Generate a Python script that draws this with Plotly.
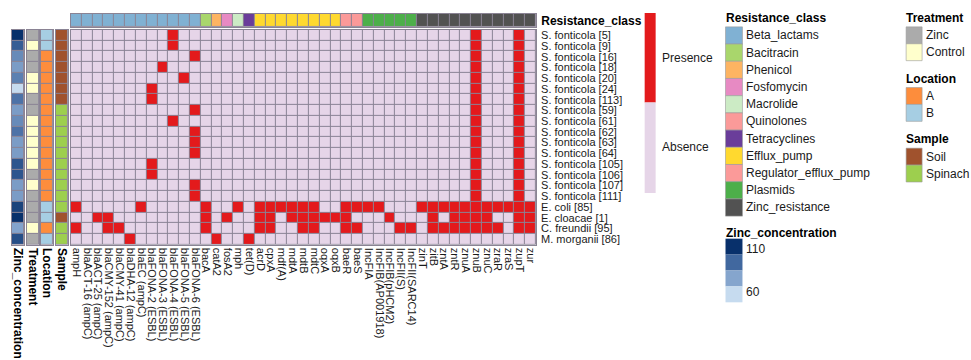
import plotly.graph_objects as go

# ---------------- data ----------------
genes = ["ampH", "blaACT-16 (ampC)", "blaACT-25 (ampC)", "blaCMY-152 (ampC)", "blaCMY-41 (ampC)",
         "blaDHA-12 (ampC)", "blaEC (ampC)", "blaFONA-2 (ESBL)", "blaFONA-3 (ESBL)", "blaFONA-4 (ESBL)",
         "blaFONA-5 (ESBL)", "blaFONA-6 (ESBL)", "bacA", "catA2", "fosA2", "mph", "tet(D)", "acrD", "cpxA",
         "mdf(A)", "mdtA", "mdtB", "mdtC", "oqxA", "oqxB", "baeR", "baeS", "IncFIA", "IncFIB(AP001918)",
         "IncFIB(pHCM2)", "IncFII(S)", "IncFII(SARC14)", "zinT", "zitB", "zntA", "zntR", "znuA", "znuB",
         "znuC", "zraR", "zraS", "zupT", "zur"]

gene_class = ["Beta_lactams", "Beta_lactams", "Beta_lactams", "Beta_lactams", "Beta_lactams",
              "Beta_lactams", "Beta_lactams", "Beta_lactams", "Beta_lactams", "Beta_lactams",
              "Beta_lactams", "Beta_lactams", "Bacitracin", "Phenicol", "Fosfomycin", "Macrolide",
              "Tetracyclines", "Efflux_pump", "Efflux_pump", "Efflux_pump", "Efflux_pump", "Efflux_pump",
              "Efflux_pump", "Efflux_pump", "Efflux_pump", "Regulator_efflux_pump", "Regulator_efflux_pump",
              "Plasmids", "Plasmids", "Plasmids", "Plasmids", "Plasmids", "Zinc_resistance",
              "Zinc_resistance", "Zinc_resistance", "Zinc_resistance", "Zinc_resistance", "Zinc_resistance",
              "Zinc_resistance", "Zinc_resistance", "Zinc_resistance", "Zinc_resistance", "Zinc_resistance"]

class_names = ["Beta_lactams", "Bacitracin", "Phenicol", "Fosfomycin", "Macrolide", "Quinolones",
               "Tetracyclines", "Efflux_pump", "Regulator_efflux_pump", "Plasmids", "Zinc_resistance"]
class_colors = ["#80B1D3", "#A9D66C", "#FDB462", "#E78AC3", "#CCEBC5", "#FB9A99",
                "#6A3D9A", "#FFD92F", "#FB9A99", "#4DAF4A", "#525252"]

isolates = ["S. fonticola [5]", "S. fonticola [9]", "S. fonticola [16]", "S. fonticola [18]",
            "S. fonticola [20]", "S. fonticola [24]", "S. fonticola [113]", "S. fonticola [59]",
            "S. fonticola [61]", "S. fonticola [62]", "S. fonticola [63]", "S. fonticola [64]",
            "S. fonticola [105]", "S. fonticola [106]", "S. fonticola [107]", "S. fonticola [111]",
            "E. coli [85]", "E. cloacae [1]", "C. freundii [95]", "M. morganii [86]"]

present_genes = [
    ["blaFONA-4 (ESBL)", "znuB", "zupT"],
    ["blaFONA-4 (ESBL)", "znuB", "zupT"],
    ["blaFONA-6 (ESBL)", "znuB", "zupT"],
    ["blaFONA-3 (ESBL)", "znuB", "zupT"],
    ["blaFONA-5 (ESBL)", "znuB", "zupT"],
    ["blaFONA-2 (ESBL)", "znuB", "zupT"],
    ["blaFONA-2 (ESBL)", "znuB", "zupT"],
    ["blaFONA-6 (ESBL)", "znuB", "zupT"],
    ["blaFONA-4 (ESBL)", "znuB", "zupT"],
    ["blaFONA-6 (ESBL)", "znuB", "zupT"],
    ["blaFONA-6 (ESBL)", "znuB", "zupT"],
    ["blaFONA-6 (ESBL)", "znuB", "zupT"],
    ["blaFONA-2 (ESBL)", "znuB", "zupT"],
    ["blaFONA-2 (ESBL)", "znuB", "zupT"],
    ["blaFONA-6 (ESBL)", "znuB", "zupT"],
    ["blaFONA-6 (ESBL)", "znuB", "zupT"],
    ["ampH", "blaEC (ampC)", "bacA", "mph", "acrD", "cpxA", "mdf(A)", "mdtA", "mdtB", "mdtC",
     "baeR", "baeS", "IncFIA", "IncFIB(AP001918)", "zinT", "zitB", "zntA", "zntR", "znuA", "znuB",
     "znuC", "zraR", "zraS", "zupT", "zur"],
    ["blaACT-25 (ampC)", "blaCMY-152 (ampC)", "bacA", "fosA2", "acrD", "cpxA", "mdtA", "mdtB", "mdtC",
     "oqxA", "oqxB", "baeR", "IncFIB(pHCM2)", "zitB", "zntR", "znuA", "znuB", "znuC", "zupT", "zur"],
    ["ampH", "blaCMY-152 (ampC)", "blaCMY-41 (ampC)", "bacA", "acrD", "cpxA", "mdtB", "mdtC",
     "baeR", "baeS", "IncFII(S)", "IncFII(SARC14)", "zitB", "zntA", "zntR", "znuA", "znuB", "znuC",
     "zraR", "zupT", "zur"],
    ["blaDHA-12 (ampC)", "catA2", "tet(D)"],
]

zinc_conc = [110, 98, 85, 80, 88, 60, 92, 80, 85, 92, 80, 80, 100, 100, 80, 80, 105, 110, 78, 102]
treatment = ["Zinc", "Control", "Zinc", "Zinc", "Control", "Control", "Zinc", "Zinc", "Control", "Control",
             "Control", "Control", "Control", "Zinc", "Control", "Zinc", "Zinc", "Zinc", "Control", "Zinc"]
location = ["B", "B", "A", "A", "A", "A", "A", "A", "A", "A", "A", "A", "A", "A", "A", "A", "B", "B", "A", "B"]
sample = ["Soil", "Soil", "Soil", "Soil", "Soil", "Soil", "Soil", "Spinach", "Spinach", "Spinach",
          "Spinach", "Spinach", "Spinach", "Spinach", "Spinach", "Spinach", "Spinach", "Soil", "Spinach", "Spinach"]

treatment_levels = ["Zinc", "Control"]
treatment_colors = ["#ABABAB", "#FFFFCC"]
location_levels = ["A", "B"]
location_colors = ["#FD8D3C", "#A6CEE3"]
sample_levels = ["Soil", "Spinach"]
sample_colors = ["#A0522D", "#9DCF4E"]
pa_levels = ["Presence", "Absence"]
pa_colors = ["#E31A1C", "#E6D5E8"]
zinc_scale = [[0.0, "#C6DBEF"], [0.35, "#85A5CD"], [0.7, "#41689F"], [1.0, "#08306B"]]
zinc_labels = ["110", "60"]

# ---------------- layout helpers ----------------
W, H = 971, 360
GRID = "#8A8394"
FONT = "Liberation Sans, Arial, sans-serif"
TXT = "#1a1a1a"


def fx(x):
    return x / W


def fy(y):
    return 1 - y / H


def disc_scale(colors):
    n = len(colors)
    cs = []
    for i, c in enumerate(colors):
        cs.append([i / n, c])
        cs.append([(i + 1) / n, c])
    return cs


n_r, n_c = len(isolates), len(genes)
z_main = [[1 if g in present_genes[i] else 0 for g in genes] for i in range(n_r)]

fig = go.Figure()
fig.add_trace(go.Heatmap(z=z_main, x=list(range(n_c)), y=list(range(n_r)),
                         colorscale=[[0, pa_colors[1]], [0.5, pa_colors[1]], [0.5, pa_colors[0]], [1, pa_colors[0]]],
                         zmin=0, zmax=1, xgap=1, ygap=1, showscale=False, hoverinfo="skip",
                         xaxis="x", yaxis="y"))

z_top = [[class_names.index(c) for c in gene_class]]
fig.add_trace(go.Heatmap(z=z_top, x=list(range(n_c)), y=[0], colorscale=disc_scale(class_colors),
                         zmin=-0.5, zmax=len(class_names) - 0.5, xgap=1, ygap=1, showscale=False,
                         hoverinfo="skip", xaxis="x2", yaxis="y2"))

ann_cols = [
    ("Zinc_concentration", [[v] for v in zinc_conc], zinc_scale, 60, 110, (11, 23)),
    ("Treatment", [[treatment_levels.index(v)] for v in treatment], disc_scale(treatment_colors), -0.5, 1.5, (26, 38)),
    ("Location", [[location_levels.index(v)] for v in location], disc_scale(location_colors), -0.5, 1.5, (40, 52)),
    ("Sample", [[sample_levels.index(v)] for v in sample], disc_scale(sample_colors), -0.5, 1.5, (55, 67)),
]

layout = dict(
    width=W, height=H, margin=dict(l=0, r=0, t=0, b=0),
    paper_bgcolor="white", plot_bgcolor=GRID,
    font=dict(family=FONT, color=TXT, size=11),
    showlegend=False,
)

axis_common = dict(showgrid=False, zeroline=False, showline=True, mirror=True, linecolor=GRID, linewidth=1,
                   ticks="", fixedrange=True)

layout["xaxis"] = dict(axis_common, domain=[fx(70), fx(536)], range=[-0.5, n_c - 0.5], anchor="y",
                       tickmode="array", tickvals=list(range(n_c)), ticktext=genes, tickangle=90,
                       tickfont=dict(size=11, family=FONT, color=TXT), side="bottom")
layout["yaxis"] = dict(axis_common, domain=[fy(245), fy(29)], range=[n_r - 0.5, -0.5], anchor="x",
                       tickmode="array", tickvals=list(range(n_r)), ticktext=isolates, side="right",
                       tickfont=dict(size=11, family=FONT, color=TXT), ticklabelstandoff=2)
layout["xaxis2"] = dict(axis_common, domain=[fx(70), fx(536)], range=[-0.5, n_c - 0.5], anchor="y2",
                        showticklabels=False)
layout["yaxis2"] = dict(axis_common, domain=[fy(26), fy(13)], range=[-0.5, 0.5], anchor="x2", side="right",
                        tickmode="array", tickvals=[0], ticktext=["<b>Resistance_class</b>"],
                        tickfont=dict(size=12, family=FONT, color="#000"), ticklabelstandoff=2)

for k, (name, z, cs, zmin, zmax, (x0, x1)) in enumerate(ann_cols):
    ax = k + 3
    fig.add_trace(go.Heatmap(z=z, x=[0], y=list(range(n_r)), colorscale=cs, zmin=zmin, zmax=zmax,
                             xgap=1, ygap=1, showscale=False, hoverinfo="skip",
                             xaxis=f"x{ax}", yaxis=f"y{ax}"))
    layout[f"xaxis{ax}"] = dict(axis_common, domain=[fx(x0), fx(x1)], range=[-0.5, 0.5], anchor=f"y{ax}",
                                tickmode="array", tickvals=[0], ticktext=[f"<b>{name}</b>"], tickangle=90,
                                tickfont=dict(size=12, family=FONT, color="#000"))
    layout[f"yaxis{ax}"] = dict(axis_common, domain=[fy(245), fy(29)], range=[n_r - 0.5, -0.5],
                                anchor=f"x{ax}", showticklabels=False)

shapes = []
annotations = []


def rect(x0, y0, x1, y1, color, border=True):
    shapes.append(dict(type="rect", xref="paper", yref="paper", x0=fx(x0), x1=fx(x1), y0=fy(y1), y1=fy(y0),
                       fillcolor=color, line=dict(color="#9a9a9a" if border else color, width=0.6 if border else 0),
                       layer="above"))


def text(x, y, s, bold=False, size=12):
    annotations.append(dict(xref="paper", yref="paper", x=fx(x), y=fy(y), text=f"<b>{s}</b>" if bold else s,
                            showarrow=False, xanchor="left", yanchor="middle",
                            font=dict(size=size, family=FONT, color="#000" if bold else TXT)))


# Presence / Absence legend
rect(645, 12, 656, 102, pa_colors[0], border=False)
rect(645, 102, 656, 193, pa_colors[1], border=False)
text(660, 57, pa_levels[0])
text(660, 147, pa_levels[1])

# Resistance class legend
text(724, 17, "Resistance_class", bold=True)
step = 17.3
for i, (nm, col) in enumerate(zip(class_names, class_colors)):
    y0 = 26 + i * step
    rect(726, y0, 743, y0 + step, col)
    text(745, y0 + step / 2, nm)

# Zinc concentration legend
text(724, 233, "Zinc_concentration", bold=True)
zinc_boxes = ["#08306B", "#41689F", "#85A5CD", "#C6DBEF"]
for i, col in enumerate(zinc_boxes):
    y0 = 239 + i * 16
    rect(726, y0, 743, y0 + 16, col, border=False)
text(745, 249, zinc_labels[0])
text(745, 293, zinc_labels[1])

# Treatment / Location / Sample legends
for title, levels, cols, ty in [("Treatment", treatment_levels, treatment_colors, 17),
                                ("Location", location_levels, location_colors, 78),
                                ("Sample", sample_levels, sample_colors, 139)]:
    text(905, ty, title, bold=True)
    for i, (lv, col) in enumerate(zip(levels, cols)):
        y0 = ty + 9 + i * 17
        rect(907, y0, 923, y0 + 17, col)
        text(925, y0 + 8.5, lv)

layout["shapes"] = shapes
layout["annotations"] = annotations
fig.update_layout(**layout)
fig.write_html("out.html")
